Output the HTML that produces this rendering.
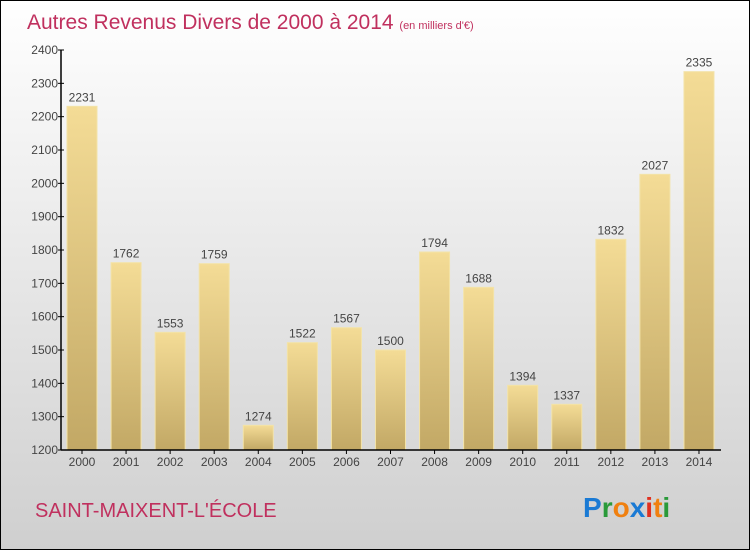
<!DOCTYPE html>
<html><head><meta charset="utf-8"><style>
body{margin:0;}
#c{width:750px;height:550px;position:relative;overflow:hidden;}
</style></head><body>
<div id="c">
<svg width="750" height="550" xmlns="http://www.w3.org/2000/svg" font-family="Liberation Sans, sans-serif">
<defs>
<linearGradient id="bg" x1="0" y1="0" x2="0" y2="1"><stop offset="0" stop-color="#ffffff"/><stop offset="1" stop-color="#cfcfcf"/></linearGradient>
<linearGradient id="bar" x1="0" y1="0" x2="0" y2="1"><stop offset="0" stop-color="#f4dc96"/><stop offset="1" stop-color="#c2a865"/></linearGradient>
</defs>
<rect x="0.5" y="0.5" width="749" height="549" fill="url(#bg)" stroke="#000"/>
<text x="27" y="29" font-size="21" fill="#c0305e">Autres Revenus Divers de 2000 à 2014 <tspan font-size="11">(en milliers d'€)</tspan></text>
<g id="bars"></g>
<g id="axes"></g>
<text x="35" y="517" font-size="20" fill="#c0305e">SAINT-MAIXENT-L'ÉCOLE</text>
<g font-size="28" font-weight="bold" font-family="Liberation Sans, sans-serif">
<text x="583" y="517"><tspan fill="#1a7ad4">P</tspan><tspan fill="#2a9a3a">r</tspan><tspan fill="#f08010">o</tspan><tspan fill="#1a7ad4">x</tspan><tspan fill="#e03020">i</tspan><tspan fill="#f08010">t</tspan><tspan fill="#2a9a3a">i</tspan></text>
</g>
</svg>
</div>
<script>
const years=["2000","2001","2002","2003","2004","2005","2006","2007","2008","2009","2010","2011","2012","2013","2014"];
const values=[2231,1762,1553,1759,1274,1522,1567,1500,1794,1688,1394,1337,1832,2027,2335];
const ticks=[1200,1300,1400,1500,1600,1700,1800,1900,2000,2100,2200,2300,2400];
const NS="http://www.w3.org/2000/svg";
const yMin=1200,yMax=2400,y0=450,y1=50,x0=67,step=44.07,bw=30;
const yS=v=>y0-(v-yMin)/(yMax-yMin)*(y0-y1);
const xS=i=>x0+i*step;
function mk(t,a,p){const e=document.createElementNS(NS,t);for(const k in a)e.setAttribute(k,a[k]);p.appendChild(e);return e;}
const bars=document.getElementById('bars'),axes=document.getElementById('axes');
values.forEach((v,i)=>{
 const r=mk('rect',{x:xS(i),y:yS(v),width:bw,height:y0-yS(v),fill:'url(#bar)',stroke:'#f3e3a8','stroke-width':1},bars);
 
 
 const t=mk('text',{x:xS(i)+bw/2,y:yS(v)-5,'font-size':12,fill:'#444','text-anchor':'middle'},bars);
 t.textContent=v;
 
 
 const xl=mk('text',{x:xS(i)+bw/2,y:466,'font-size':12,fill:'#444','text-anchor':'middle'},axes);
 xl.textContent=years[i];
 
 
 const tk=mk('line',{x1:xS(i)+bw/2,x2:xS(i)+bw/2,y1:y0,y2:y0+4,stroke:'#000'},axes);
 
 
});
ticks.forEach(v=>{
 const l=mk('line',{x1:58,x2:64,y1:yS(v),y2:yS(v),stroke:'#000'},axes);
 
 
 const t=mk('text',{x:58,y:yS(v)+4,'font-size':12,fill:'#444','text-anchor':'end'},axes);
 t.textContent=v;
 
 
});
const ya=mk('line',{x1:61,x2:61,y1:y1,y2:y0,stroke:'#000','stroke-width':1.5},axes);


const xa=mk('line',{x1:61,x2:721,y1:y0,y2:y0,stroke:'#000','stroke-width':1.5},axes);


</script>
</body></html>
